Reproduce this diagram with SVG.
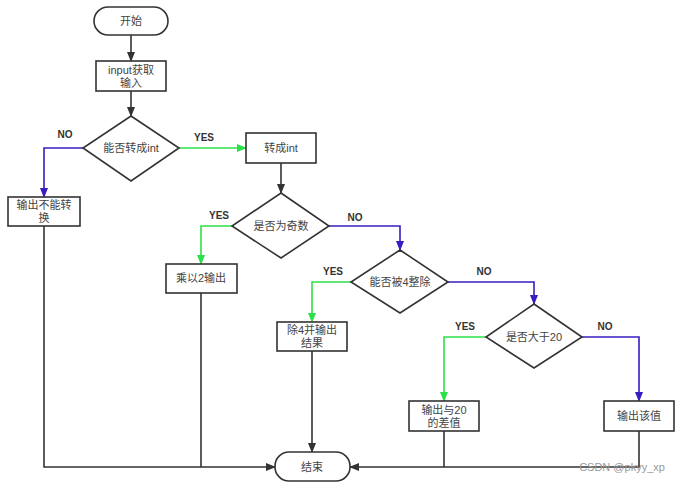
<svg xmlns="http://www.w3.org/2000/svg" width="683" height="486" viewBox="0 0 683 486">
<style>
.n{fill:#fff;stroke:#333;stroke-width:1.6}
.t{font-family:"Liberation Sans","Noto Sans CJK SC",sans-serif;font-size:11px;fill:#444;text-anchor:middle}
.l{font-family:"Liberation Sans",sans-serif;font-size:10px;font-weight:bold;fill:#333;text-anchor:middle}
.k{fill:none;stroke:#333;stroke-width:1.6}
.g{fill:none;stroke:#2de04a;stroke-width:1.6}
.b{fill:none;stroke:#3a1cc0;stroke-width:1.6}
</style>
<defs>
<marker id="ak" markerWidth="10" markerHeight="10" refX="9" refY="5" orient="auto" markerUnits="userSpaceOnUse"><path d="M0,1 L10,5 L0,9 Z" fill="#333"/></marker>
<marker id="ag" markerWidth="10" markerHeight="10" refX="9" refY="5" orient="auto" markerUnits="userSpaceOnUse"><path d="M0,1 L10,5 L0,9 Z" fill="#2de04a"/></marker>
<marker id="ab" markerWidth="10" markerHeight="10" refX="9" refY="5" orient="auto" markerUnits="userSpaceOnUse"><path d="M0,1 L10,5 L0,9 Z" fill="#3a1cc0"/></marker>
</defs>
<rect width="683" height="486" fill="#fff"/>
<g id="connectors">
<path class="k" d="M131,35 V61" marker-end="url(#ak)"/>
<path class="k" d="M131,91 V116" marker-end="url(#ak)"/>
<path class="g" d="M179,148 H246" marker-end="url(#ag)"/>
<path class="b" d="M83,148 H44 V197" marker-end="url(#ab)"/>
<path class="k" d="M281,163 V193" marker-end="url(#ak)"/>
<path class="g" d="M232,226 H201 V264" marker-end="url(#ag)"/>
<path class="b" d="M329,226 H400 V250" marker-end="url(#ab)"/>
<path class="g" d="M351,282 H312 V322" marker-end="url(#ag)"/>
<path class="b" d="M448,282 H534 V304" marker-end="url(#ab)"/>
<path class="g" d="M486,337 H444 V401" marker-end="url(#ag)"/>
<path class="b" d="M582,337 H639 V401" marker-end="url(#ab)"/>
<path class="k" d="M44,226 V467 H275" marker-end="url(#ak)"/>
<path class="k" d="M201,293 V467"/>
<path class="k" d="M312,351 V452" marker-end="url(#ak)"/>
<path class="k" d="M639,431 V467 H350" marker-end="url(#ak)"/>
<path class="k" d="M444,431 V467"/>
<text class="l" x="65" y="138">NO</text>
<text class="l" x="204" y="141">YES</text>
<text class="l" x="219" y="219">YES</text>
<text class="l" x="355" y="221">NO</text>
<text class="l" x="333" y="275">YES</text>
<text class="l" x="484" y="275">NO</text>
<text class="l" x="465" y="330">YES</text>
<text class="l" x="605" y="330">NO</text>
</g>
<g id="start"><rect class="n" x="94" y="7" width="74" height="28" rx="14"/><text class="t" x="131" y="25">开始</text></g>
<g id="input"><rect class="n" x="96" y="61" width="70" height="30"/><text class="t" x="131" y="74">input获取</text><text class="t" x="131" y="87">输入</text></g>
<g id="d1"><polygon class="n" points="131,116 179,148 131,181 83,148"/><text class="t" x="131" y="152">能否转成int</text></g>
<g id="toint"><rect class="n" x="246" y="133" width="70" height="30"/><text class="t" x="281" y="152">转成int</text></g>
<g id="cannot"><rect class="n" x="8" y="197" width="72" height="29"/><text class="t" x="44" y="209">输出不能转</text><text class="t" x="44" y="222">换</text></g>
<g id="d2"><polygon class="n" points="281,193 329,226 281,258 232,226"/><text class="t" x="281" y="230">是否为奇数</text></g>
<g id="mul2"><rect class="n" x="166" y="264" width="71" height="29"/><text class="t" x="201" y="282">乘以2输出</text></g>
<g id="d3"><polygon class="n" points="400,250 448,282 400,313 351,282"/><text class="t" x="400" y="286">能否被4整除</text></g>
<g id="div4"><rect class="n" x="277" y="322" width="70" height="29"/><text class="t" x="312" y="334">除4并输出</text><text class="t" x="312" y="347">结果</text></g>
<g id="d4"><polygon class="n" points="534,304 582,337 534,368 486,337"/><text class="t" x="534" y="341">是否大于20</text></g>
<g id="diff"><rect class="n" x="409" y="401" width="70" height="30"/><text class="t" x="444" y="414">输出与20</text><text class="t" x="444" y="427">的差值</text></g>
<g id="value"><rect class="n" x="604" y="401" width="70" height="30"/><text class="t" x="639" y="420">输出该值</text></g>
<g id="end"><rect class="n" x="275" y="452" width="75" height="29" rx="14"/><text class="t" x="312" y="471">结束</text></g>
<text x="622" y="471" font-family="Liberation Sans,sans-serif" font-size="11" fill="#999" text-anchor="middle">CSDN @pkyy_xp</text>
</svg>
